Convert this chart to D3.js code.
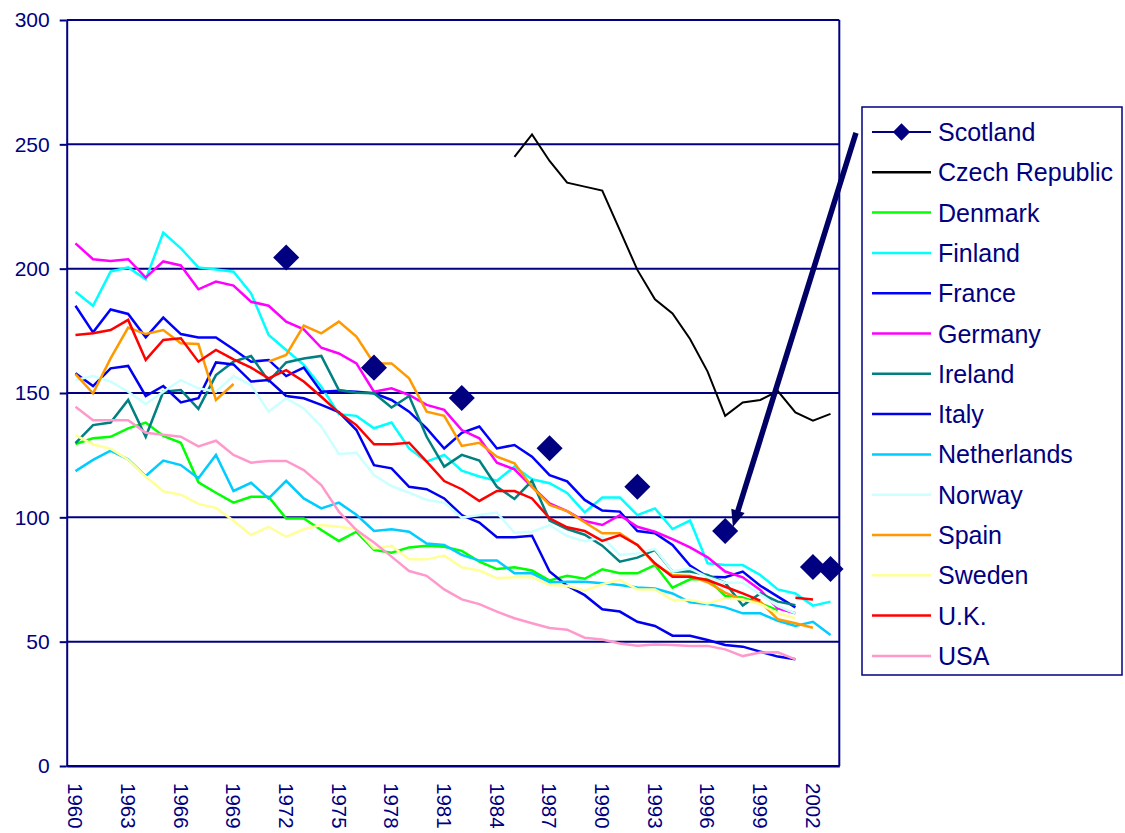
<!DOCTYPE html>
<html><head><meta charset="utf-8">
<script src="https://cdn.jsdelivr.net/npm/d3@7"></script>
<style>body{margin:0;background:#fff}</style>
</head><body>
<svg id="c" width="1125" height="833"></svg>
<script>
const years = [1960,1961,1962,1963,1964,1965,1966,1967,1968,1969,1970,1971,1972,1973,1974,1975,1976,1977,1978,1979,1980,1981,1982,1983,1984,1985,1986,1987,1988,1989,1990,1991,1992,1993,1994,1995,1996,1997,1998,1999,2000,2001,2002,2003];
const xTickLabels = [1960,1963,1966,1969,1972,1975,1978,1981,1984,1987,1990,1993,1996,1999,2002];
const yTicks = [0,50,100,150,200,250,300];

const N = null;
const scotland = [N,N,N,N,N,N,N,N,N,N,N,N,204.5,N,N,N,N,160.2,N,N,N,N,148.0,N,N,N,N,127.8,N,N,N,N,112.3,N,N,N,N,94.5,N,N,N,N,80.0,79.2];
const czech = [N,N,N,N,N,N,N,N,N,N,N,N,N,N,N,N,N,N,N,N,N,N,N,N,N,245.0,254.0,243.3,234.6,233.0,231.4,215.5,199.5,187.7,182.0,171.7,158.6,140.8,146.2,147.2,150.8,142.2,138.9,141.6];
const denmark = [129.5,131.8,132.4,135.8,138.1,132.7,130.0,114.1,109.9,105.9,108.3,108.3,99.5,99.5,94.9,90.5,94.2,86.9,85.8,87.9,88.6,88.2,86.5,82.2,79.2,79.9,78.6,74.6,76.5,75.3,79.1,77.5,77.5,80.8,71.7,75.1,75.2,68.4,67.8,65.4,62.7,N,N,N];
const finland = [190.7,185.1,198.8,200.5,195.7,214.5,208.2,200.5,199.7,198.8,190.1,173.3,167.3,161.3,152.5,141.5,140.8,135.8,138.1,127.7,122.4,125.1,118.8,116.4,114.7,120.4,115.3,113.7,109.8,102.0,108.0,108.0,100.9,103.6,95.3,98.7,81.5,80.8,80.8,76.8,71.0,69.4,64.5,66.1];
const france = [185.1,174.4,183.6,181.8,172.4,180.3,173.7,172.3,172.3,167.6,162.6,163.3,156.8,160.2,150.5,150.9,150.5,149.9,147.2,142.5,135.8,127.7,134.0,136.5,127.7,129.1,124.4,117.0,114.5,107.0,102.7,102.3,94.5,93.6,88.9,80.6,76.1,75.9,78.2,72.5,68.1,63.8,N,N];
const germany = [210.2,203.8,203.1,203.8,196.4,202.9,201.3,191.7,194.8,193.2,186.7,185.1,178.7,175.6,168.2,165.9,161.9,150.5,151.9,149.2,145.2,143.2,135.1,131.8,122.0,119.3,112.3,105.6,102.5,98.5,96.9,100.9,96.2,94.2,91.2,87.9,83.9,78.2,75.9,70.8,63.4,61.4,N,N];
const ireland = [129.8,137.1,138.1,147.2,132.4,150.5,151.2,143.6,157.2,162.6,164.9,154.8,162.3,163.9,164.9,151.2,150.1,149.9,144.2,148.8,132.4,120.4,125.1,122.8,112.3,107.4,114.7,98.7,95.3,93.0,88.6,82.2,83.8,86.9,78.2,78.2,76.8,73.7,64.5,69.4,66.1,64.7,N,N];
const italy = [157.9,152.8,159.9,160.9,148.8,152.8,146.2,147.9,162.3,161.5,154.6,155.2,148.8,147.9,145.2,142.3,135.1,121.0,119.7,112.3,111.3,107.6,100.9,97.9,92.0,92.0,92.6,78.2,72.5,68.7,63.0,62.1,58.0,56.3,52.4,52.4,50.7,48.7,48.0,46.0,44.0,42.9,N,N];
const netherlands = [118.6,123.1,126.8,123.3,116.6,122.8,121.0,115.7,125.1,110.6,113.9,107.6,114.7,107.6,103.6,105.9,101.0,94.5,95.2,94.2,89.5,88.9,84.9,82.6,82.6,77.5,77.5,73.9,74.1,74.1,73.5,72.8,71.8,71.4,69.4,65.8,65.1,63.8,61.4,61.4,58.4,56.3,58.0,52.7];
const norway = [155.2,156.8,154.6,150.5,145.6,150.5,155.2,151.9,150.5,156.8,153.2,142.5,147.9,143.8,136.5,125.5,126.0,117.0,112.6,109.9,107.0,105.9,99.9,100.9,101.9,93.8,94.2,96.9,92.5,90.4,92.0,84.9,85.5,87.3,78.2,79.5,75.9,73.7,73.7,69.0,64.3,61.4,N,N];
const spain = [157.6,149.9,163.9,176.3,173.7,175.3,170.0,169.7,147.2,153.6,N,162.6,165.3,177.1,174.0,178.7,172.7,161.9,161.9,155.9,142.5,140.8,128.7,130.0,124.4,121.7,112.3,105.0,102.5,98.0,93.6,93.6,88.9,81.1,76.8,76.4,73.9,69.7,66.8,66.1,59.0,57.4,55.6,N];
const sweden = [133.1,129.3,127.6,123.2,116.4,110.5,109.1,105.4,103.8,98.6,92.9,96.2,92.2,95.2,96.9,96.2,95.2,87.5,88.5,83.1,83.1,84.6,79.9,78.6,75.5,75.9,75.9,72.8,72.5,70.5,73.1,74.8,71.0,71.0,66.8,66.8,65.4,67.4,67.0,65.1,61.4,59.4,N,N];
const uk = [173.3,174.0,175.3,179.4,163.3,171.3,172.0,162.6,167.3,163.5,160.2,155.9,159.2,154.6,148.5,142.1,137.1,129.4,129.4,130.0,122.4,114.6,111.3,106.6,110.6,110.6,107.6,99.6,96.0,94.5,90.5,92.9,88.9,81.5,76.1,76.1,74.8,72.1,69.4,66.5,N,67.7,67.0,N];
const usa = [144.5,139.0,139.0,139.0,134.0,133.2,132.4,128.5,130.8,125.1,122.0,122.7,122.7,119.0,113.0,102.3,94.9,89.9,84.2,78.4,76.5,71.0,67.0,65.1,62.1,59.4,57.4,55.5,54.8,51.6,50.9,49.3,48.4,48.9,48.7,48.3,48.3,46.9,44.2,45.6,45.7,42.9,N,N];

const seriesNames = ["Scotland","Czech Republic","Denmark","Finland","France","Germany","Ireland","Italy","Netherlands","Norway","Spain","Sweden","U.K.","USA"];
const seriesValues = [scotland,czech,denmark,finland,france,germany,ireland,italy,netherlands,norway,spain,sweden,uk,usa];
const seriesColors = ["#000080","#000000","#00FF00","#00FFFF","#0000FF","#FF00FF","#008080","#0000EE","#00CCFF","#CCFFFF","#FF9900","#FFFF99","#FF0000","#FF99CC"];

// annotation arrow (in data terms: category index, value)
const arrowFrom = [44.45, 254.6];
const arrowTo = [37.44, 96.1];

const FONT = "'Liberation Sans', Arial, sans-serif";
const NAVY = "#000080";
const svg = d3.select("#c");
const L = 66.7, R = 839.3, T = 20, B = 766;

const x = d3.scaleBand().domain(years).range([L, R]).padding(0);
const xc = yr => x(yr) + x.bandwidth() / 2;
const xi = i => L + x.bandwidth() * (i + 0.5);
const y = d3.scaleLinear().domain([0, 300]).range([B, T]);

// gridlines
svg.append("g").selectAll("line").data(yTicks).join("line")
  .attr("x1", L).attr("x2", R).attr("y1", d => y(d)).attr("y2", d => y(d))
  .attr("stroke", NAVY).attr("stroke-width", 2);
// right border
svg.append("line").attr("x1", R).attr("x2", R).attr("y1", T).attr("y2", B)
  .attr("stroke", NAVY).attr("stroke-width", 2);

// y axis
const ya = svg.append("g").attr("transform", `translate(${L},0)`)
  .call(d3.axisLeft(y).tickValues(yTicks).tickSizeInner(7).tickSizeOuter(0).tickPadding(10));
ya.select(".domain").attr("stroke", NAVY).attr("stroke-width", 2);
ya.selectAll(".tick line").attr("stroke", NAVY).attr("stroke-width", 2);
ya.selectAll("text").attr("fill", NAVY).attr("font-size", 21).attr("font-family", FONT);

// x axis
const xa = svg.append("g").attr("transform", `translate(0,${B})`)
  .call(d3.axisBottom(x).tickValues(xTickLabels).tickSizeInner(0).tickSizeOuter(0));
xa.select(".domain").attr("stroke", NAVY).attr("stroke-width", 2);
xa.selectAll(".tick line").remove();
xa.selectAll("text").attr("fill", NAVY).attr("font-size", 20.5).attr("font-family", FONT)
  .attr("y", 0).attr("x", 17).attr("dy", "0.35em")
  .attr("transform", "rotate(90)").style("text-anchor", "start");

// lines
const line = d3.line().defined(d => d != null).x((d, i) => xc(years[i])).y(d => y(d));
const g = svg.append("g");
seriesValues.forEach((vals, k) => {
  g.append("path").attr("d", line(vals)).attr("fill", "none")
    .attr("stroke", seriesColors[k]).attr("stroke-width", k === 1 ? 2 : 2.5)
    .attr("stroke-linejoin", "miter");
});
// scotland markers
const diamond = d3.symbol().type(d3.symbolSquare).size(340);
g.selectAll("path.sc").data(scotland.map((v, i) => [years[i], v]).filter(d => d[1] != null))
  .join("path").attr("class", "sc").attr("d", diamond)
  .attr("transform", d => `translate(${xc(d[0])},${y(d[1])}) rotate(45)`)
  .attr("fill", NAVY);

// arrow
const ax1 = xi(arrowFrom[0]), ay1 = y(arrowFrom[1]);
const ax2 = xi(arrowTo[0]), ay2 = y(arrowTo[1]);
const ang = Math.atan2(ay2 - ay1, ax2 - ax1);
const headLen = 17, headW = 7;
const bx = ax2 - headLen * Math.cos(ang), by = ay2 - headLen * Math.sin(ang);
svg.append("line").attr("x1", ax1).attr("y1", ay1).attr("x2", bx + 3 * Math.cos(ang)).attr("y2", by + 3 * Math.sin(ang))
  .attr("stroke", "#000066").attr("stroke-width", 5.5);
svg.append("path")
  .attr("d", `M${ax2},${ay2}L${bx - headW * Math.sin(ang)},${by + headW * Math.cos(ang)}L${bx + headW * Math.sin(ang)},${by - headW * Math.cos(ang)}Z`)
  .attr("fill", "#000066");

// legend
const lg = svg.append("g");
lg.append("rect").attr("x", 862).attr("y", 107).attr("width", 260).attr("height", 568)
  .attr("fill", "#fff").attr("stroke", NAVY).attr("stroke-width", 1.5);
seriesNames.forEach((name, k) => {
  const yy = 132 + 40.3 * k;
  lg.append("line").attr("x1", 872).attr("x2", 931).attr("y1", yy).attr("y2", yy)
    .attr("stroke", seriesColors[k]).attr("stroke-width", k === 0 ? 2 : 2.5);
  if (k === 0) {
    lg.append("path").attr("d", d3.symbol().type(d3.symbolSquare).size(150)())
      .attr("transform", `translate(901.5,${yy}) rotate(45)`).attr("fill", NAVY);
  }
  lg.append("text").attr("x", 938).attr("y", yy).attr("dy", "0.36em")
    .attr("font-size", 25).attr("font-family", FONT).attr("fill", NAVY).text(name);
});
</script>
</body></html>
